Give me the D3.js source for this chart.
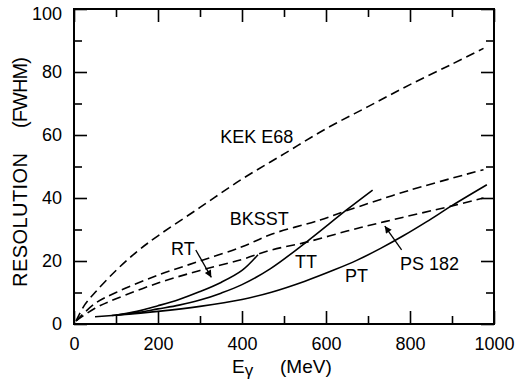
<!DOCTYPE html>
<html><head><meta charset="utf-8">
<script src="https://cdn.jsdelivr.net/npm/d3@7"></script>
<style>
body{margin:0;background:#fff;}
svg{display:block;font-family:"Liberation Sans",Arial,Helvetica,sans-serif;}
</style></head>
<body>
<svg id="c" width="515" height="383" xmlns="http://www.w3.org/2000/svg"></svg>
<script>
// ---- data ----
const kekE   = [5, 25, 50, 100, 150, 200, 300, 400, 500, 600, 700, 800, 900, 975];
const kekR   = [1, 6, 10, 17, 23, 28, 37, 46, 54, 62, 69, 76, 82.5, 87.5];
const bksstE = [5, 50, 100, 200, 300, 400, 470, 586, 650, 800, 975];
const bksstR = [1, 6.5, 10, 15.5, 20, 24.5, 28.5, 33, 36, 42.5, 49];
const psE    = [5, 50, 100, 200, 300, 400, 470, 554, 650, 740, 900, 975];
const psR    = [1, 5, 8, 13, 17, 20.5, 23.5, 26, 29.5, 32.5, 37.5, 40];
const rtE    = [100, 150, 200, 250, 300, 350, 400, 438];
const rtR    = [2.8, 4, 5.8, 7.8, 10.3, 13.2, 17, 22];
const ttE    = [90, 150, 200, 250, 300, 350, 400, 467, 554, 649, 711];
const ttR    = [2.7, 3.6, 4.8, 6, 7.6, 9.8, 12.5, 17.5, 26.1, 36.2, 42.5];
const ptE    = [50, 100, 200, 300, 400, 470, 550, 620, 673, 730, 784, 840, 899, 983];
const ptR    = [2.3, 2.8, 4, 5.6, 7.8, 10.1, 13.6, 17.2, 20.2, 24, 28, 32.5, 37.5, 44.2];

const xMajor = [0, 200, 400, 600, 800, 1000];
const xMinor = [100, 300, 500, 700, 900];
const yMajor = [0, 20, 40, 60, 80, 100];
const yMinor = [10, 30, 50, 70, 90];

const labels = [
  {t:"KEK E68", e:348, r:57.5},
  {t:"BKSST",   e:371, r:31.4},
  {t:"RT",      e:231, r:21.9},
  {t:"TT",      e:526, r:17.8},
  {t:"PT",      e:645, r:13.3},
  {t:"PS 182",  e:776, r:17.1}
];
const arrows = [
  {e0:290, r0:23.5, e1:327, r1:14.8},
  {e0:780, r0:23.5, e1:740, r1:31.1}
];

// ---- drawing ----
const svg = d3.select("#c");
const x = d3.scaleLinear().domain([0,1000]).range([74,494]);
const y = d3.scaleLinear().domain([0,100]).range([324,9]);
const FS = 18, MAJ = 13, MIN = 8;

function styleAxis(g){
  g.select(".domain").remove();
  g.selectAll(".tick line").attr("stroke","#000").attr("stroke-width",1.6);
  g.selectAll("text").style("fill","#000").style("font-size",FS+"px").style("font-family","Liberation Sans, Arial, sans-serif");
}
function ax(axisFn, scale, vals, size, tx, ty, labelsOn, pad){
  const a = axisFn(scale).tickValues(vals).tickSize(-size).tickPadding(pad||3)
    .tickFormat(labelsOn ? d3.format("d") : "");
  return svg.append("g").attr("transform",`translate(${tx},${ty})`).call(a).call(styleAxis);
}
ax(d3.axisBottom, x, xMajor, MAJ, 0, y(0), true, 13);
ax(d3.axisBottom, x, xMinor, MIN, 0, y(0), false);
ax(d3.axisTop,    x, xMajor, MAJ, 0, y(100), false);
ax(d3.axisTop,    x, xMinor, MIN, 0, y(100), false);
const gl = ax(d3.axisLeft, y, yMajor, MAJ, x(0), 0, true, 12);
gl.selectAll(".tick text").filter(d=>d===100).attr("dy","0.6em");
ax(d3.axisLeft,  y, yMinor, MIN, x(0), 0, false);
ax(d3.axisRight, y, yMajor, MAJ, x(1000), 0, false);
ax(d3.axisRight, y, yMinor, MIN, x(1000), 0, false);

// frame
svg.append("path")
  .attr("d",`M${x(0)},${y(100)}H${x(1000)}V${y(0)}H${x(0)}Z`)
  .attr("fill","none").attr("stroke","#000").attr("stroke-width",2);

const line = d3.line().x(d=>x(d[0])).y(d=>y(d[1])).curve(d3.curveCatmullRom.alpha(0.5));
function series(E,R,dashed){
  svg.append("path").datum(E.map((e,i)=>[e,R[i]])).attr("d",line)
    .attr("fill","none").attr("stroke","#000").attr("stroke-width",1.6)
    .attr("stroke-dasharray",dashed?"9,5":null);
}
series(kekE,kekR,true);
series(bksstE,bksstR,true);
series(psE,psR,true);
series(rtE,rtR,false);
series(ttE,ttR,false);
series(ptE,ptR,false);

// arrows
svg.append("defs").append("marker").attr("id","ah").attr("viewBox","0 0 10 10")
  .attr("refX",10).attr("refY",5).attr("markerWidth",10).attr("markerHeight",7)
  .attr("markerUnits","userSpaceOnUse").attr("orient","auto")
  .append("path").attr("d","M0,0L10,5L0,10z").attr("fill","#000");
arrows.forEach(a=>{
  svg.append("line").attr("x1",x(a.e0)).attr("y1",y(a.r0)).attr("x2",x(a.e1)).attr("y2",y(a.r1))
    .attr("stroke","#000").attr("stroke-width",1.3).attr("marker-end","url(#ah)");
});

// labels
labels.forEach(l=>{
  svg.append("text").attr("x",x(l.e)).attr("y",y(l.r)).text(l.t)
    .style("font-size",FS+"px").attr("fill","#000");
});

// axis titles
const xt = svg.append("text").attr("x",232).attr("y",373).style("font-size","19px").attr("fill","#000");
xt.append("tspan").text("E");
xt.append("tspan").text("γ").attr("dy",3).style("font-size","17px");
xt.append("tspan").text("(MeV)").attr("x",280).attr("dy",-3);

const yt = svg.append("text").attr("transform","translate(27,0) rotate(-90)")
  .style("font-size","20px").attr("fill","#000");
yt.append("tspan").text("RESOLUTION").attr("x",-287).attr("y",0)
  .attr("textLength",134).attr("lengthAdjust","spacing");
yt.append("tspan").text("(FWHM)").attr("x",-128).attr("y",0)
  .attr("textLength",71).attr("lengthAdjust","spacing");
</script>
</body></html>
